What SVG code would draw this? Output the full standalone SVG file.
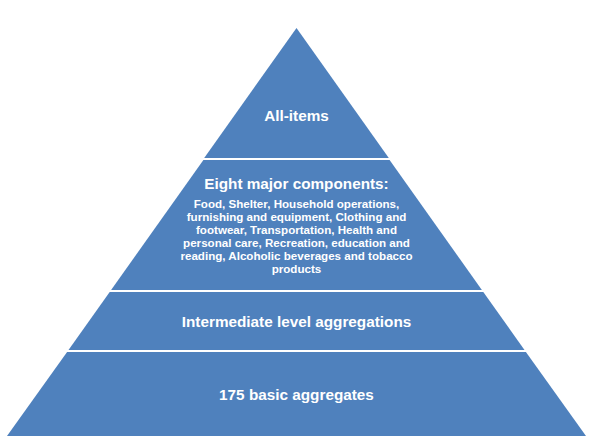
<svg xmlns="http://www.w3.org/2000/svg" width="593" height="447" viewBox="0 0 593 447">
<style>
.layer{fill:#4F81BD}
.t{fill:#fff;font-family:"Liberation Sans",Arial,sans-serif;font-weight:bold;text-anchor:middle}
.big{font-size:15.3px}
.small{font-size:11.6px}
</style>
<rect width="593" height="447" fill="#fff"/>
<g id="level1">
<polygon class="layer" points="296.5,28 388.8,158 204.2,158"/>
<text class="t big" x="296.5" y="121">All-items</text>
</g>
<g id="level2">
<polygon class="layer" points="203.4,160 389.6,160 481.9,290 111.1,290"/>
<text class="t big" x="296.5" y="189">Eight major components:</text>
<text class="t small" x="296.5" y="208">Food, Shelter, Household operations,</text>
<text class="t small" x="296.5" y="221">furnishing and equipment, Clothing and</text>
<text class="t small" x="296.5" y="234">footwear, Transportation, Health and</text>
<text class="t small" x="296.5" y="247">personal care, Recreation, education and</text>
<text class="t small" x="296.5" y="260">reading, Alcoholic beverages and tobacco</text>
<text class="t small" x="296.5" y="273">products</text>
</g>
<g id="level3">
<polygon class="layer" points="109.7,292 483.3,292 524.5,350 68.5,350"/>
<text class="t big" x="296.5" y="327">Intermediate level aggregations</text>
</g>
<g id="level4">
<polygon class="layer" points="67.1,352 525.9,352 586,436 7,436"/>
<text class="t big" x="296.5" y="400">175 basic aggregates</text>
</g>
<g id="connectors"></g>
</svg>
